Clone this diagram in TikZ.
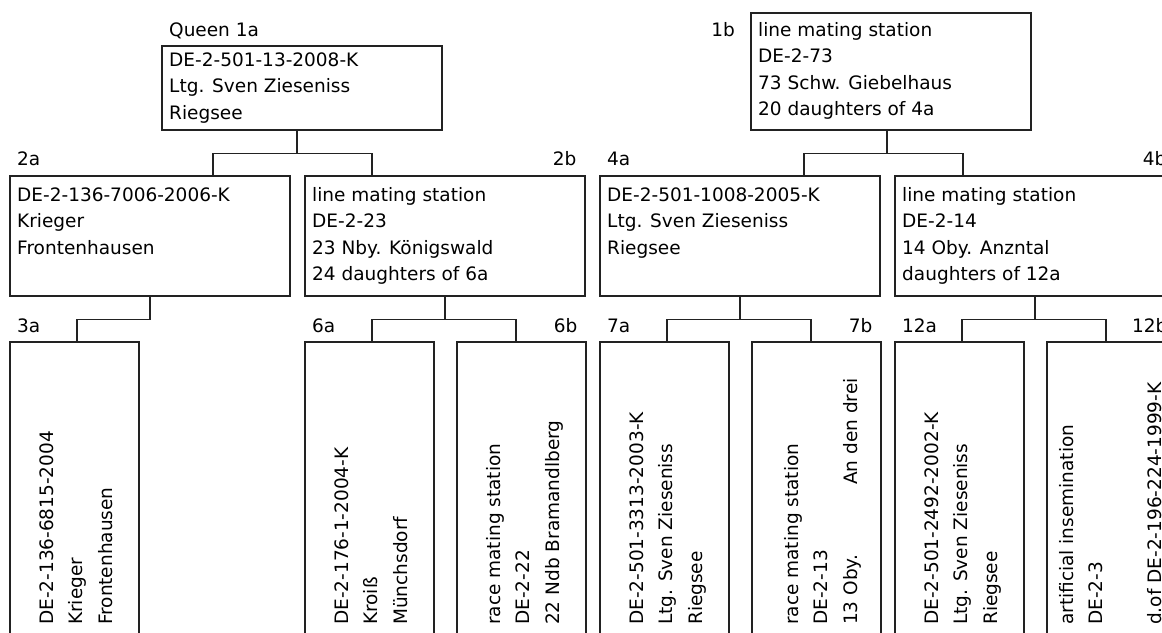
\documentclass[tikz,border=0pt]{standalone}
\usepackage{fontspec}
\setmainfont{DejaVu Sans}
\usetikzlibrary{calc}
\definecolor{linec}{HTML}{222222}
\newcommand\firststrut{\rule{0pt}{15pt}}
\begin{document}
\begin{tikzpicture}[x=1pt,y=-1pt,
  boxbase/.style={draw=linec, line width=1.5pt, inner sep=0pt, anchor=north west},
  bigbox/.style={boxbase, minimum width=280pt, minimum height=120pt},
  smallbox/.style={boxbase, minimum width=129pt, minimum height=330pt},
  htext/.style={anchor=north west, inner sep=0pt, align=left, font=\fontsize{18.5}{26.5}\selectfont},
  vtext/.style={rotate=90, anchor=north west, inner sep=0pt, align=left, font=\fontsize{18.5}{29.5}\selectfont},
  lab/.style={inner sep=0pt, font=\fontsize{18.5}{22}\selectfont},
  conn/.style={draw=linec, line width=1.5pt}]
\useasboundingbox (0,0) rectangle (1162,632);
\clip (0,0) rectangle (1162,632);

% ---------- level 1 ----------
\node[boxbase, minimum width=280pt, minimum height=84pt] (b1a) at (161,45) {};
\node[boxbase, minimum width=280pt, minimum height=117pt] (b1b) at (750,12) {};
\node[htext] (t1a) at (169,51) {\firststrut DE-2-501-13-2008-K\\Ltg. Sven Zieseniss\\Riegsee};
\node[htext] (t1b) at (758,21) {\firststrut line mating station\\DE-2-73\\73 Schw. Giebelhaus\\20 daughters of 4a};
\node[lab, anchor=base west] (l1a) at (169,36) {Queen 1a};
\node[lab, anchor=base east] (l1b) at (735,36) {1b};

% ---------- level 2 ----------
\node[bigbox] (b2a) at (9,175) {};
\node[bigbox] (b2b) at (304,175) {};
\node[bigbox] (b4a) at (599,175) {};
\node[bigbox] (b4b) at (894,175) {};
\node[htext] (t2a) at (17,186) {\firststrut DE-2-136-7006-2006-K\\Krieger\\Frontenhausen};
\node[htext] (t2b) at (312,186) {\firststrut line mating station\\DE-2-23\\23 Nby. Königswald\\24 daughters of 6a};
\node[htext] (t4a) at (607,186) {\firststrut DE-2-501-1008-2005-K\\Ltg. Sven Zieseniss\\Riegsee};
\node[htext] (t4b) at (902,186) {\firststrut line mating station\\DE-2-14\\14 Oby. Anzntal\\daughters of 12a};
\node[lab, anchor=base west] (l2a) at ($(b2a.north west)+(8,-10)$) {2a};
\node[lab, anchor=base east] (l2b) at ($(b2b.north east)+(-9,-10)$) {2b};
\node[lab, anchor=base west] (l4a) at ($(b4a.north west)+(8,-10)$) {4a};
\node[lab, anchor=base east] (l4b) at ($(b4b.north east)+(-9,-10)$) {4b};

% ---------- level 3 ----------
\node[smallbox] (b3a) at (9,341) {};
\node[smallbox] (b6a) at (304,341) {};
\node[smallbox] (b6b) at (456,341) {};
\node[smallbox] (b7a) at (599,341) {};
\node[smallbox] (b7b) at (751,341) {};
\node[smallbox] (b12a) at (894,341) {};
\node[smallbox] (b12b) at (1046,341) {};
\node[vtext] (t3a) at (38,625) {\firststrut DE-2-136-6815-2004\\Krieger\\Frontenhausen};
\node[vtext] (t6a) at (333,625) {\firststrut DE-2-176-1-2004-K\\Kroiß\\Münchsdorf};
\node[vtext] (t6b) at (485,625) {\firststrut race mating station\\DE-2-22\\22 Ndb Bramandlberg};
\node[vtext] (t7a) at (628,625) {\firststrut DE-2-501-3313-2003-K\\Ltg. Sven Zieseniss\\Riegsee};
\node[vtext] (t7b) at (783,625) {\firststrut race mating station\\DE-2-13\\13 Oby.\hspace{70pt}An den drei};
\node[vtext] (t12a) at (923,625) {\firststrut DE-2-501-2492-2002-K\\Ltg. Sven Zieseniss\\Riegsee};
\node[vtext] (t12b) at (1058,625) {\firststrut artificial insemination\\DE-2-3\\ \\d.of DE-2-196-224-1999-K};
\node[lab, anchor=base west] (l3a) at ($(b3a.north west)+(8,-9)$) {3a};
\node[lab, anchor=base west] (l6a) at ($(b6a.north west)+(8,-9)$) {6a};
\node[lab, anchor=base east] (l6b) at ($(b6b.north east)+(-9,-9)$) {6b};
\node[lab, anchor=base west] (l7a) at ($(b7a.north west)+(8,-9)$) {7a};
\node[lab, anchor=base east] (l7b) at ($(b7b.north east)+(-9,-9)$) {7b};
\node[lab, anchor=base west] (l12a) at ($(b12a.north west)+(8,-9)$) {12a};
\node[lab, anchor=base east] (l12b) at ($(b12b.north east)+(-9,-9)$) {12b};

% ---------- connectors ----------
\coordinate (p1a) at ($(b1a.south west)+(136,0)$);
\coordinate (p1b) at ($(b1b.south west)+(137,0)$);
\draw[conn] (p1a) -- ++(0,23) -| ($(b2a.north west)+(204,0)$);
\draw[conn] (p1a) ++(0,23) -| ($(b2b.north west)+(68,0)$);
\draw[conn] (p1b) -- ++(0,23) -| ($(b4a.north west)+(205,0)$);
\draw[conn] (p1b) ++(0,23) -| ($(b4b.north west)+(69,0)$);

\draw[conn] (b2a.south) -- ++(0,23) -| ($(b3a.north west)+(68,0)$);
\draw[conn] (b2b.south) -- ++(0,23) -| ($(b6a.north west)+(68,0)$);
\draw[conn] (b2b.south) ++(0,23) -| ($(b6b.north west)+(60,0)$);
\draw[conn] (b4a.south) -- ++(0,23) -| ($(b7a.north west)+(68,0)$);
\draw[conn] (b4a.south) ++(0,23) -| ($(b7b.north west)+(60,0)$);
\draw[conn] (b4b.south) -- ++(0,23) -| ($(b12a.north west)+(68,0)$);
\draw[conn] (b4b.south) ++(0,23) -| ($(b12b.north west)+(60,0)$);
\end{tikzpicture}
\end{document}
